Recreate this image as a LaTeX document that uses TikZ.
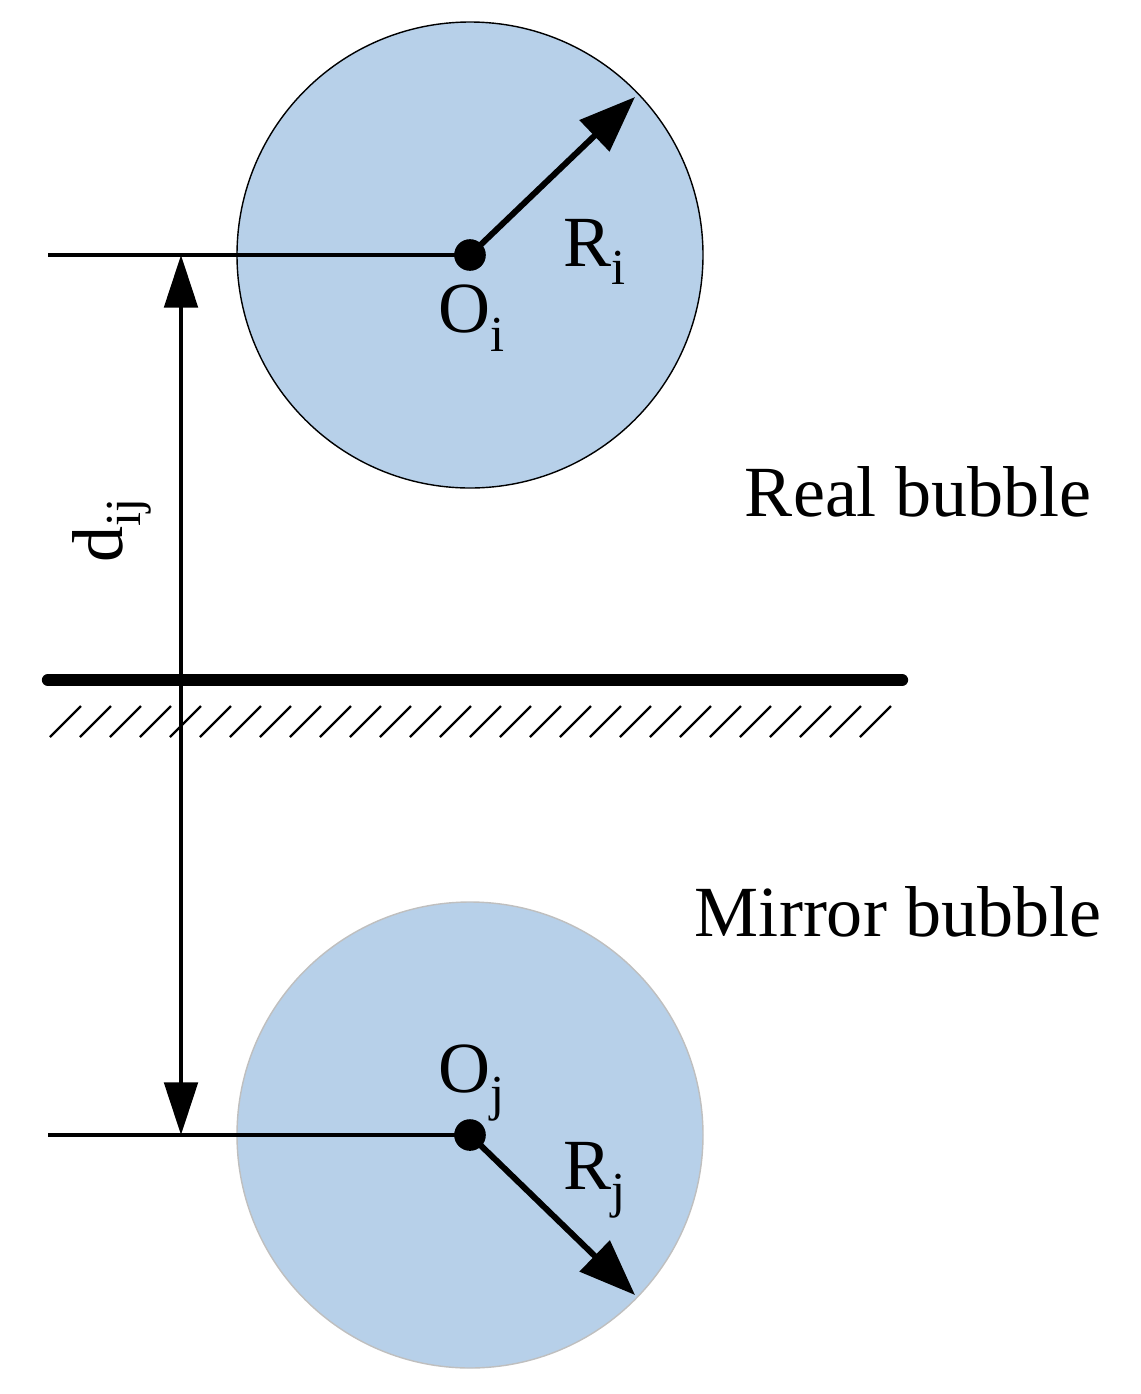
\documentclass[tikz,border=0pt]{standalone}
\usepackage{fontspec}
\setmainfont{Liberation Serif}
\usetikzlibrary{arrows.meta}
\definecolor{bub}{RGB}{183,208,233}
\begin{document}
\begin{tikzpicture}[x=0.02cm,y=-0.02cm,
  lab/.style={font=\fontsize{41}{44}\selectfont,inner sep=0pt},
  arr/.style={line width=3.4pt,-{Triangle[length=32pt,width=24pt]}},
  dot/.style={circle,fill=black,inner sep=0pt,minimum size=18pt}]
\useasboundingbox (0,0) rectangle (1141,1394);
\fill[bub,draw=black,line width=0.8pt] (470,255) circle (233);
\fill[bub,draw=black!25,line width=0.8pt] (470,1135) circle (233);
\node[dot] (oi) at (470,255) {};
\node[dot] (oj) at (470,1135) {};
\coordinate (li) at (48,255);
\coordinate (lj) at (48,1135);
\coordinate (ri) at (635,97);
\coordinate (rj) at (635,1295);
\coordinate (dt) at (181,255);
\coordinate (db) at (181,1135);
\draw[line width=1.8pt] (li) -- (oi.center);
\draw[line width=1.8pt] (lj) -- (oj.center);
\draw[arr] (oi.center) -- (ri);
\draw[arr] (oj.center) -- (rj);
\draw[line width=2.4pt,{Triangle[length=30pt,width=19pt]}-{Triangle[length=30pt,width=19pt]}] (dt) -- (db);
\draw[line width=7pt,line cap=round] (48,680) -- (902,680);
\foreach \x in {50,80,...,860} \draw[line width=1.3pt] (\x,737) -- (\x+31,706);
\node[lab] at (595,252) {R\textsubscript{i}};
\node[lab] at (472,318) {O\textsubscript{i}};
\node[lab] at (918,492) {Real bubble};
\node[lab] at (898,912) {Mirror bubble};
\node[lab] at (472,1083) {O\textsubscript{j}};
\node[lab] at (595,1180) {R\textsubscript{j}};
\node[lab,rotate=90] at (112,530) {d\textsubscript{ij}};
\end{tikzpicture}
\end{document}
